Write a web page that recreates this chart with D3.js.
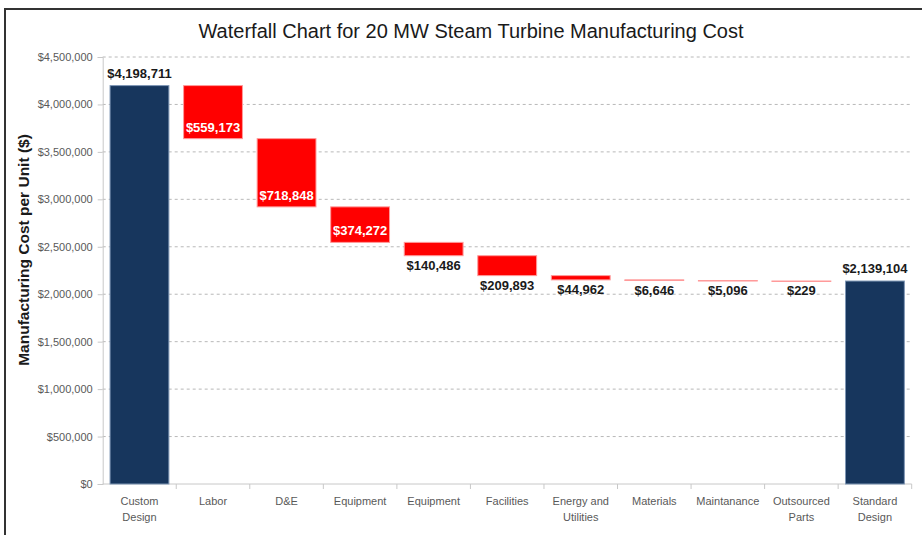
<!DOCTYPE html>
<html>
<head>
<meta charset="utf-8">
<script src="https://cdn.jsdelivr.net/npm/d3@7"></script>
<style>
  body { margin: 0; background: #fff; }
  svg { display: block; font-family: "Liberation Sans", Arial, sans-serif; }
</style>
</head>
<body>
<svg id="chart" width="922" height="535"></svg>
<script>
// categories (\n = line break in axis label)
var categories = ['Custom\nDesign', 'Labor', 'D&E', 'Equipment', 'Equipment', 'Facilities',
  'Energy and\nUtilities', 'Materials', 'Maintanance', 'Outsourced\nParts', 'Standard\nDesign']
// starting total, then the cost reductions, then the final total
var startTotal = 4198711
var reductions = [559173, 718848, 374272, 140486, 209893, 44962, 6646, 5096, 229]
var endTotal = 2139104
var yTicks = [0, 500000, 1000000, 1500000, 2000000, 2500000, 3000000, 3500000, 4000000, 4500000]

var svg = d3.select('#chart')
var margin = { left: 102.7, right: 10.3, top: 57, bottom: 51 }
var W = 922, H = 535

// frame
svg.append('path')
  .attr('d', 'M5,535 L5,9 L922,9')
  .attr('fill', 'none')
  .attr('stroke', '#333')
  .attr('stroke-width', 2)

// build waterfall rows
var rows = []
rows.push({ cat: 0, y0: 0, y1: startTotal, value: startTotal, total: true })
var level = startTotal
reductions.forEach(function (v, i) {
  rows.push({ cat: i + 1, y0: level - v, y1: level, value: v, total: false })
  level -= v
})
rows.push({ cat: categories.length - 1, y0: 0, y1: endTotal, value: endTotal, total: true })

var x = d3.scaleBand()
  .domain(d3.range(categories.length))
  .range([margin.left, W - margin.right])
  .paddingInner(0.2)
  .paddingOuter(0.1)

var y = d3.scaleLinear()
  .domain([0, 4500000])
  .range([H - margin.bottom, margin.top])

var fmt = function (v) { return '$' + d3.format(',')(v) }

// gridlines
svg.append('g')
  .selectAll('line')
  .data(yTicks.slice(1))
  .enter()
  .append('line')
  .attr('x1', margin.left)
  .attr('x2', W - margin.right)
  .attr('y1', function (d) { return y(d) })
  .attr('y2', function (d) { return y(d) })
  .attr('stroke', '#b8b8b8')
  .attr('stroke-dasharray', '3,3')

// y axis
var yAxis = svg.append('g')
  .attr('transform', 'translate(' + margin.left + ',0)')
  .call(d3.axisLeft(y).tickValues(yTicks).tickFormat(fmt).tickSize(5).tickPadding(5))
yAxis.select('.domain').attr('stroke', '#c8c8c8')
yAxis.selectAll('.tick line').attr('stroke', '#c8c8c8')
yAxis.selectAll('.tick text')
  .attr('fill', '#595959')
  .style('font-size', '11px')

// x axis with ticks at band boundaries
var xAxisG = svg.append('g')
  .attr('transform', 'translate(0,' + y(0) + ')')
xAxisG.append('line')
  .attr('x1', margin.left)
  .attr('x2', W - margin.right)
  .attr('stroke', '#c8c8c8')
xAxisG.selectAll('.xtick')
  .data(d3.range(1, categories.length + 1))
  .enter()
  .append('line')
  .attr('class', 'xtick')
  .attr('x1', function (i) { return x(i - 1) + x.bandwidth() + x.step() * x.paddingInner() / 2 })
  .attr('x2', function (i) { return x(i - 1) + x.bandwidth() + x.step() * x.paddingInner() / 2 })
  .attr('y1', 0)
  .attr('y2', 5)
  .attr('stroke', '#c8c8c8')

xAxisG.selectAll('.xlabel')
  .data(categories)
  .enter()
  .append('text')
  .attr('class', 'xlabel')
  .attr('text-anchor', 'middle')
  .attr('fill', '#595959')
  .style('font-size', '11px')
  .attr('transform', function (d, i) { return 'translate(' + (x(i) + x.bandwidth() / 2) + ',21)' })
  .each(function (d) {
    var arr = d.split('\n')
    for (var i = 0; i < arr.length; i++) {
      d3.select(this).append('tspan')
        .text(arr[i])
        .attr('x', 0)
        .attr('dy', i ? '16' : 0)
    }
  })

// bars
svg.append('g')
  .selectAll('rect')
  .data(rows)
  .enter()
  .append('rect')
  .attr('x', function (d) { return x(d.cat) })
  .attr('width', x.bandwidth())
  .attr('y', function (d) { return y(d.y1) })
  .attr('height', function (d) { return Math.max(0.5, y(d.y0) - y(d.y1)) })
  .attr('fill', function (d) { return d.total ? '#17365d' : '#ff0000' })
  .attr('stroke', function (d) { return d.total ? '#7f97b5' : '#ff9a9a' })
  .attr('stroke-width', 1)

// value labels
svg.append('g')
  .selectAll('text')
  .data(rows)
  .enter()
  .append('text')
  .attr('text-anchor', 'middle')
  .style('font-size', '13px')
  .style('font-weight', 'bold')
  .attr('x', function (d) { return x(d.cat) + x.bandwidth() / 2 })
  .attr('y', function (d) {
    var h = y(d.y0) - y(d.y1)
    if (d.total) return y(d.y1) - 8
    if (h > 25) return y(d.y0) - 7
    return y(d.y0) + 14
  })
  .attr('fill', function (d) {
    var h = y(d.y0) - y(d.y1)
    return (!d.total && h > 25) ? '#ffffff' : '#1a1a1a'
  })
  .text(function (d) { return fmt(d.value) })

// title
svg.append('text')
  .attr('x', 471)
  .attr('y', 38)
  .attr('text-anchor', 'middle')
  .attr('fill', '#1a1a1a')
  .style('font-size', '20px')
  .text('Waterfall Chart for 20 MW Steam Turbine Manufacturing Cost')

// y axis title
svg.append('text')
  .attr('transform', 'translate(29,250) rotate(-90)')
  .attr('text-anchor', 'middle')
  .attr('fill', '#1a1a1a')
  .style('font-size', '15.5px')
  .style('font-weight', 'bold')
  .text('Manufacturing Cost per Unit ($)')
</script>
</body>
</html>
